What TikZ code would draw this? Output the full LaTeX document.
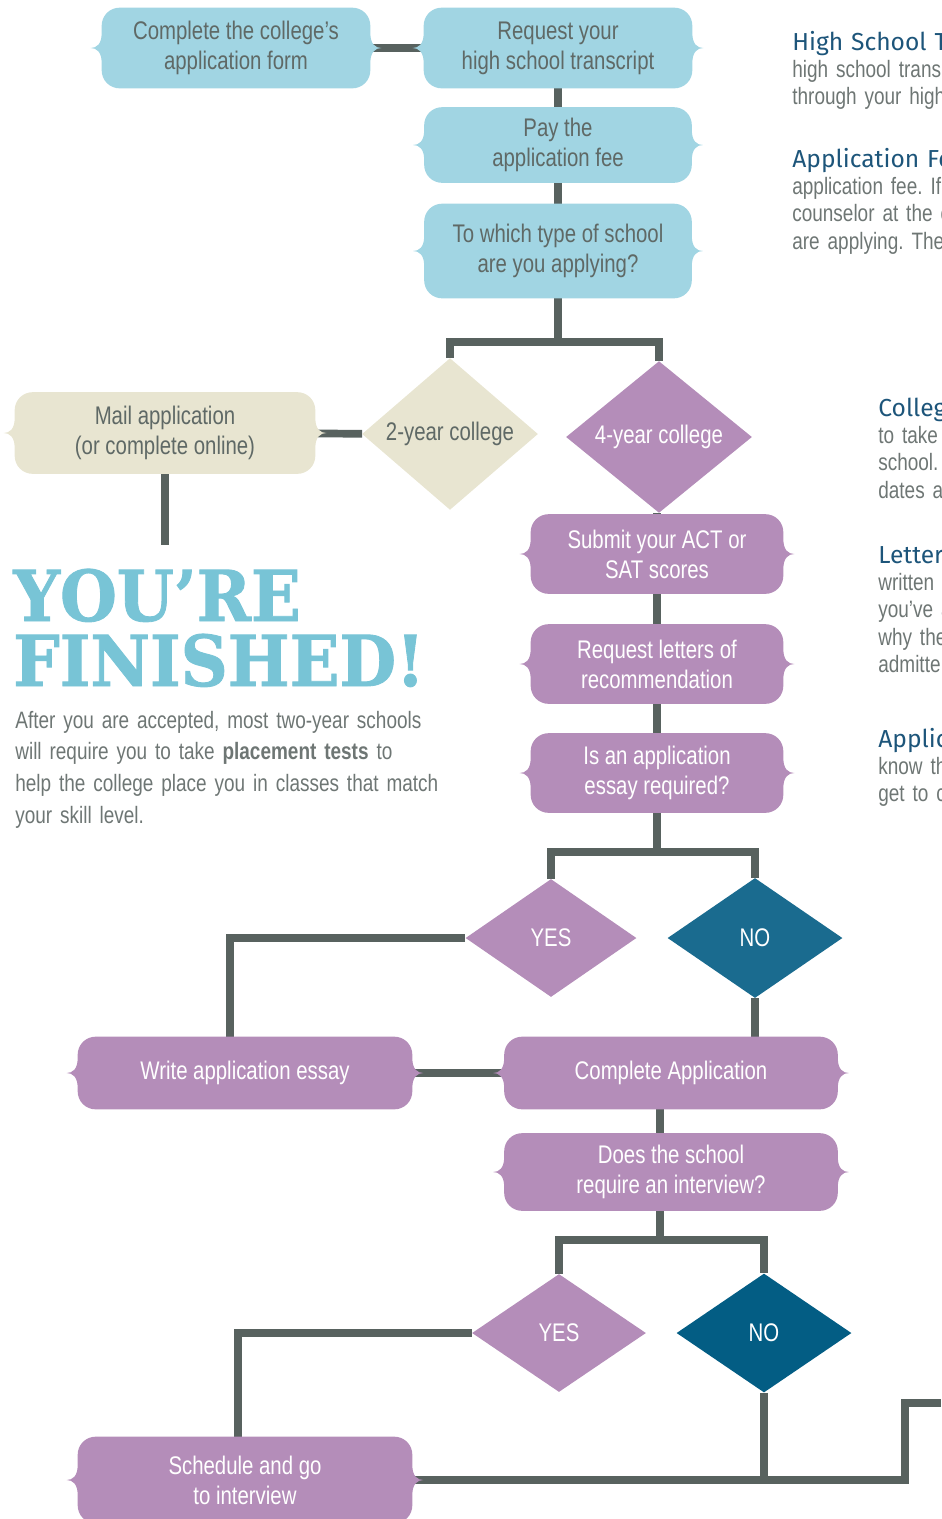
\documentclass[tikz,border=0pt]{standalone}
\usepackage{xcolor}
\usepackage{fontspec}
\usepackage{tikz}
\usetikzlibrary{calc}
\usetikzlibrary{shapes.geometric}
\usetikzlibrary{backgrounds}

\setmainfont{Liberation Sans}[FakeStretch=0.80]
\newfontfamily\slabfont{DejaVu Serif}[FakeStretch=0.93, FakeBold=1.2]
\newfontfamily\headfont{Fira Sans}
\frenchspacing

\definecolor{skyfill}{HTML}{A1D5E3}
\definecolor{sandfill}{HTML}{E8E5D1}
\definecolor{plumfill}{HTML}{B48DB9}
\definecolor{tealfill}{HTML}{1A6B8F}
\definecolor{navyfill}{HTML}{035D84}
\definecolor{linkgray}{HTML}{58625F}
\definecolor{inkgray}{HTML}{5F6966}
\definecolor{notegray}{HTML}{6E7674}
\definecolor{titleblue}{HTML}{78C4D6}
\definecolor{headblue}{HTML}{1D557A}

\tikzset{
  stepbox/.style={rectangle, inner sep=0pt, align=center, font=\fontsize{14.5}{17}\selectfont},
  darktext/.style={text=inkgray},
  lighttext/.style={text=white},
  choice/.style={diamond, inner sep=0pt, font=\fontsize{14.5}{17}\selectfont, text=white},
  link/.style={draw=linkgray, line width=4.4pt},
  note/.style={anchor=base west, inner sep=0pt, text width=4cm, align=left, text=notegray, font=\fontsize{13.5}{15.6}\selectfont},
}

% bubble with brace tips left and right
\newcommand{\bracebox}[2]{%
  \fill [fill=#2] ($(#1.east)+(11,0)$)
    .. controls ($(#1.east)+(5,0)$) and ($(#1.east)+(0,-4)$) .. ($(#1.east)+(0,-15)$)
    -- ($(#1.north east)+(0,18)$)
    .. controls ($(#1.north east)+(0,8)$) and ($(#1.north east)+(-8,0)$) .. ($(#1.north east)+(-18,0)$)
    -- ($(#1.north west)+(18,0)$)
    .. controls ($(#1.north west)+(8,0)$) and ($(#1.north west)+(0,8)$) .. ($(#1.north west)+(0,18)$)
    -- ($(#1.west)+(0,-15)$)
    .. controls ($(#1.west)+(0,-4)$) and ($(#1.west)+(-5,0)$) .. ($(#1.west)+(-11,0)$)
    .. controls ($(#1.west)+(-5,0)$) and ($(#1.west)+(0,4)$) .. ($(#1.west)+(0,15)$)
    -- ($(#1.south west)+(0,-18)$)
    .. controls ($(#1.south west)+(0,-8)$) and ($(#1.south west)+(8,0)$) .. ($(#1.south west)+(18,0)$)
    -- ($(#1.south east)+(-18,0)$)
    .. controls ($(#1.south east)+(-8,0)$) and ($(#1.south east)+(0,-8)$) .. ($(#1.south east)+(0,-18)$)
    -- ($(#1.east)+(0,15)$)
    .. controls ($(#1.east)+(0,4)$) and ($(#1.east)+(5,0)$) .. ($(#1.east)+(11,0)$) -- cycle;
}

\begin{document}
\begin{tikzpicture}[x=0.02cm, y=-0.02cm]
\useasboundingbox (0,0) rectangle (941,1519);

% blue steps
\node [stepbox, darktext, minimum width=5.36cm, minimum height=1.6cm] (cform) at (236,48) {Complete the college’s\\application form};
\node [stepbox, darktext, minimum width=5.36cm, minimum height=1.6cm] (transcript) at (558,48) {Request your\\high school transcript};
\node [stepbox, darktext, minimum width=5.34cm, minimum height=1.5cm] (fee) at (558,145) {Pay the\\application fee};
\node [stepbox, darktext, minimum width=5.34cm, minimum height=1.88cm] (which) at (558,251) {To which type of school\\are you applying?};

% two-year branch
\node [choice, text=inkgray, fill=sandfill, minimum width=3.52cm, minimum height=2.4cm] (two) at (450,434) {2-year college};
\node [stepbox, darktext, minimum width=6cm, minimum height=1.62cm] (mail) at (165,433) {Mail application\\(or complete online)};
\node [anchor=base west, inner sep=0pt, text width=9cm, align=left, text=titleblue, font=\slabfont\bfseries\fontsize{40}{37}\selectfont] (finished) at (13,621) {YOU’RE\\FINISHED!};
\node [anchor=base west, inner sep=0pt, text width=9.3cm, align=left, text=notegray, font=\fontsize{13.5}{18.1}\selectfont] (aftertext) at (15,728) {After you are accepted, most two-year schools\\will require you to take \textbf{placement tests} to\\help the college place you in classes that match\\your skill level.};

% four-year branch
\node [choice, fill=plumfill, minimum width=3.72cm, minimum height=2.38cm] (four) at (659,437) {4-year college};
\node [stepbox, lighttext, minimum width=5.04cm, minimum height=1.58cm] (scores) at (657,554) {Submit your ACT or\\SAT scores};
\node [stepbox, lighttext, minimum width=5.04cm, minimum height=1.58cm] (letters) at (657,664) {Request letters of\\recommendation};
\node [stepbox, lighttext, minimum width=5.04cm, minimum height=1.58cm] (essayq) at (657,773) {Is an application\\essay required?};
\node [choice, fill=plumfill, minimum width=3.42cm, minimum height=2.36cm] (yesA) at (551,938) {YES};
\node [choice, fill=tealfill, minimum width=3.5cm, minimum height=2.4cm] (noA) at (755,938) {NO};
\node [stepbox, lighttext, minimum width=6.68cm, minimum height=1.44cm] (write) at (245,1073) {Write application essay};
\node [stepbox, lighttext, minimum width=6.66cm, minimum height=1.44cm] (complete) at (671,1073) {Complete Application};
\node [stepbox, lighttext, minimum width=6.66cm, minimum height=1.54cm] (interview) at (671,1172) {Does the school\\require an interview?};
\node [choice, fill=plumfill, minimum width=3.48cm, minimum height=2.36cm] (yesB) at (559,1333) {YES};
\node [choice, fill=navyfill, minimum width=3.5cm, minimum height=2.38cm] (noB) at (764,1333) {NO};
\node [stepbox, lighttext, minimum width=6.68cm, minimum height=1.72cm] (schedule) at (245,1480) {Schedule and go\\to interview};

% side notes, cut by the page edge
\begin{scope}
\clip (0,0) rectangle (941,1519);
\node [note] (hsnote) at (792,50) {{\headfont\color{headblue}\fontsize{14}{15.6}\selectfont High School T}\\high school trans\\through your high};
\node [note] (feenote) at (792,167) {{\headfont\color{headblue}\fontsize{14}{15.6}\selectfont Application Fe}\\application fee. If\\counselor at the c\\are applying. The};
\node [note] (collnote) at (878,416) {{\headfont\color{headblue}\fontsize{14}{15.6}\selectfont Colleg}\\to take t\\school.\\dates a};
\node [note] (letnote) at (878,563) {{\headfont\color{headblue}\fontsize{14}{15.6}\selectfont Letter}\\written\\you’ve a\\why the\\admitte};
\node [note] (appnote) at (878,747) {{\headfont\color{headblue}\fontsize{14}{15.6}\selectfont Applic}\\know th\\get to cl};
\end{scope}

\coordinate (forkA) at (558,342);
\coordinate (mailstub) at (165,545);
\coordinate (forkB) at (657,852);
\coordinate (forkC) at (660,1240);
\coordinate (turn) at (905,1480);
\coordinate (exit) at (941,1403);

\begin{scope}[on background layer]
\draw [link] (cform) -- (transcript);
\draw [link] (transcript.south) -- (fee.north);
\draw [link] (fee.south) -- (which.north);
\draw [link] (which.south) -- (forkA);
\draw [link] (two.north) |- (forkA) -| (four.north);
\draw [link] (mail) -- (two);
\draw [link] (mail.south) -- (mailstub);
\draw [link] (four.south -| scores.north) -- (scores.north);
\draw [link] (scores.south) -- (letters.north);
\draw [link] (letters.south) -- (essayq.north);
\draw [link] (essayq.south) -- (forkB);
\draw [link] (yesA.north) |- (forkB) -| (noA.north);
\draw [link] (yesA.west) -| ($(write.north)+(-15,0)$);
\draw [link] (noA.south) -- (noA.south |- complete.north);
\draw [link] (write) -- (complete);
\draw [link] ($(complete.south)+(-11,0)$) -- ($(interview.north)+(-11,0)$);
\draw [link] ($(interview.south)+(-11,0)$) -- (forkC);
\draw [link] (yesB.north) |- (forkC) -| (noB.north);
\draw [link] (yesB.west) -| ($(schedule.north)+(-7,0)$);
\draw [link] (noB.south) -- (noB.south |- turn);
\draw [link] (schedule.east) -- (turn) |- (exit);
\foreach \n/\col in {cform/skyfill, transcript/skyfill, fee/skyfill, which/skyfill, mail/sandfill, scores/plumfill, letters/plumfill, essayq/plumfill, write/plumfill, complete/plumfill, interview/plumfill, schedule/plumfill}
  {\bracebox{\n}{\col}}
\end{scope}
\end{tikzpicture}
\end{document}
